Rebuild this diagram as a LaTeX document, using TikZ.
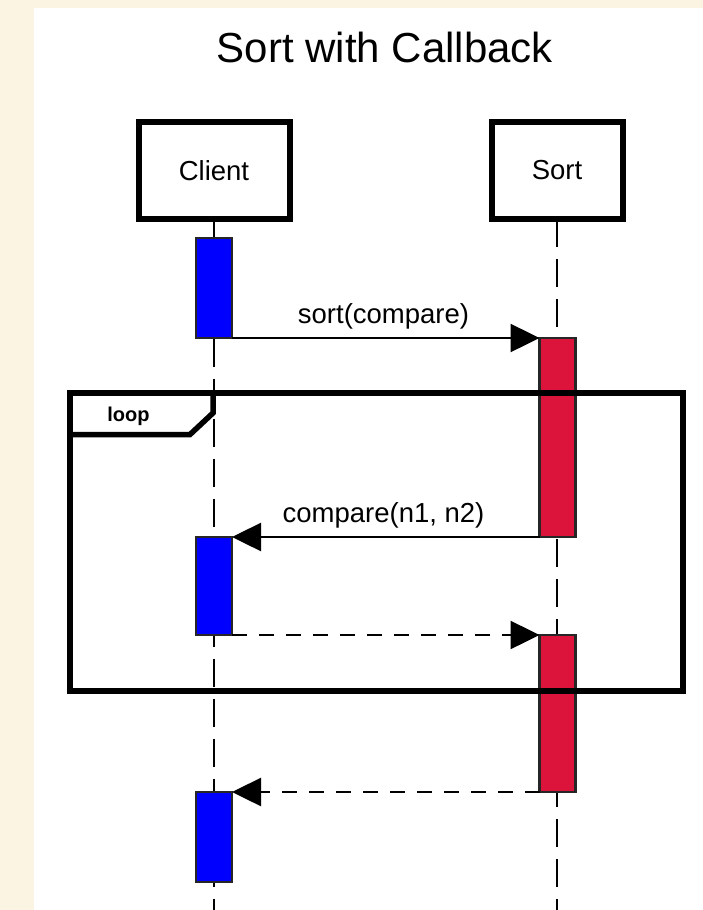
\documentclass[tikz,border=0pt]{standalone}
\usepackage{fontspec}
\setmainfont{Liberation Sans}
\usetikzlibrary{arrows.meta}
\definecolor{paper}{HTML}{FCF4E2}
\definecolor{actred}{HTML}{DC143C}
\definecolor{actblue}{HTML}{0000FF}
\begin{document}
\begin{tikzpicture}[x=1pt,y=-1pt,
  head/.style={draw, line width=6pt, fill=white, outer sep=0pt, inner sep=0pt,
    minimum height=96.4pt, font=\fontsize{27.5}{30}\selectfont},
  lifeline/.style={draw, line width=2.6pt, dash pattern=on 28pt off 12pt},
  act/.style={draw=black!85, line width=2.5pt, outer sep=0pt, inner sep=0pt, minimum width=36pt},
  msg/.style={draw, line width=2.5pt, -{Triangle[length=29pt,width=28pt]}},
  reply/.style={msg, dash pattern=on 15pt off 12pt},
  msglabel/.style={anchor=base, inner sep=0pt, font=\fontsize{27.5}{30}\selectfont},
  frame/.style={draw, line width=5.5pt, line join=miter}
]
% page background and white sheet
\useasboundingbox (0,0) rectangle (703,910);
\fill[paper] (0,0) rectangle (703,910);
\fill[white] (34,8) rectangle (703,910);

% title
\node[anchor=base, inner sep=0pt, font=\fontsize{42}{46}\selectfont] (title) at (385,62) {Sort with Callback};

% participants
\node[head, minimum width=151pt] (client) at (214,170.5) {Client};
\node[head, minimum width=131pt] (sort) at (557,170.5) {Sort};

% lifelines
\coordinate (clientend) at (214,910);
\coordinate (sortend) at (557,910);
\draw[lifeline] (client.south) -- (clientend);
\draw[lifeline] (sort.south) -- (sortend);

% activation bars
\node[act, fill=actblue, minimum height=100pt] (c1) at (214,288) {};
\node[act, fill=actred,  minimum height=199pt] (s1) at (557.5,437.5) {};
\node[act, fill=actblue, minimum height=98pt]  (c2) at (214,586) {};
\node[act, fill=actred,  minimum height=157pt] (s2) at (557.5,713.5) {};
\node[act, fill=actblue, minimum height=90pt]  (c3) at (214,837) {};

% messages
\draw[msg] (c1.south east) -- (s1.north west);
\node[msglabel] (l1) at (383.5,323) {sort(compare)};
\draw[msg] (s1.south west) -- (c2.north east);
\node[msglabel] (l2) at (383.5,522) {compare(n1, n2)};
\draw[reply] (c2.south east) -- (s2.north west);
\draw[reply] (s2.south west) -- (c3.north east);

% loop fragment
\draw[frame] (70,393) rectangle (683,691);
\draw[frame] (70,434.5) -- (190,434.5) -- (213,413) -- (213,393);
\node[anchor=base, inner sep=0pt, font=\fontsize{20}{22}\selectfont\bfseries] (loop) at (128.5,421) {loop};
\end{tikzpicture}
\end{document}
